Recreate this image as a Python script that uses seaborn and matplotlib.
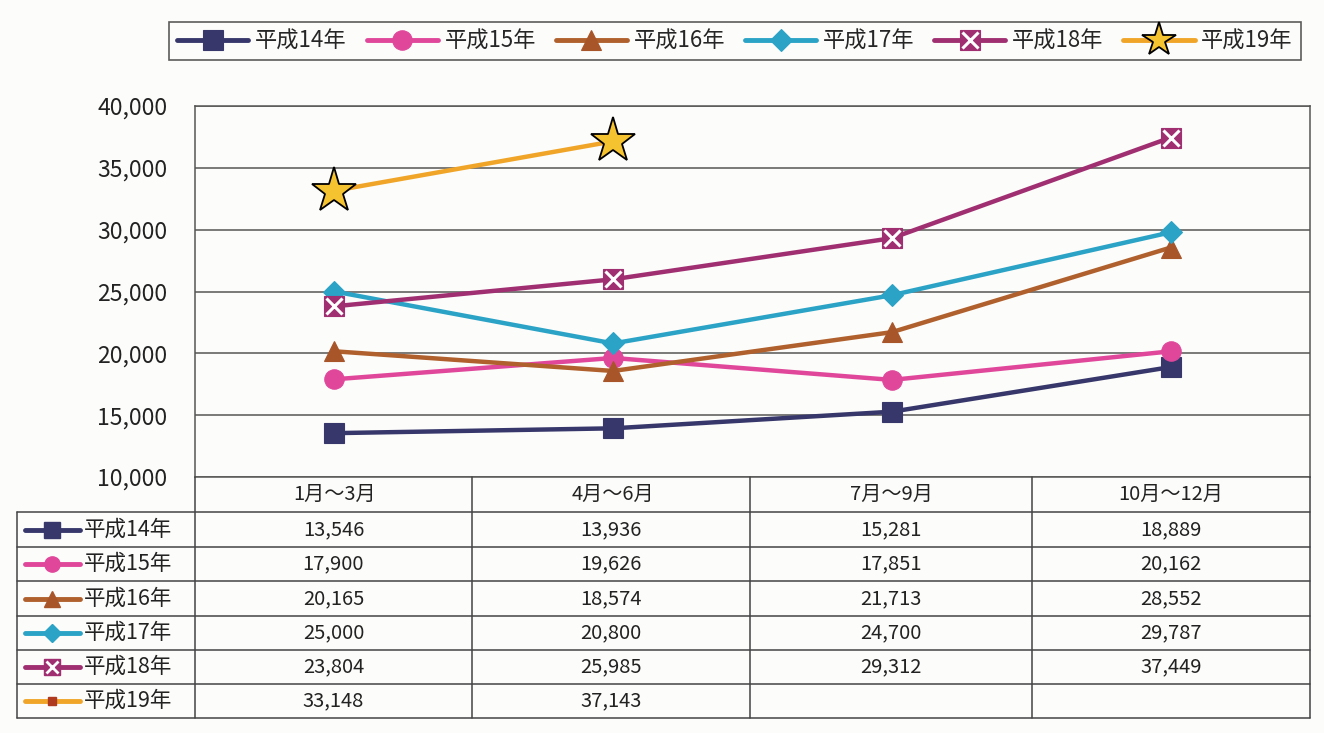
import matplotlib
matplotlib.use("Agg")
import matplotlib.pyplot as plt
from matplotlib.lines import Line2D
from matplotlib.legend_handler import HandlerTuple
import seaborn as sns
import pandas as pd

sns.set_theme(style="white")
plt.rcParams['font.family'] = ['Noto Sans CJK JP', 'DejaVu Sans']

categories = ["1月～3月", "4月～6月", "7月～9月", "10月～12月"]
series_names = ["平成14年", "平成15年", "平成16年", "平成17年", "平成18年", "平成19年"]
h14 = [13546, 13936, 15281, 18889]
h15 = [17900, 19626, 17851, 20162]
h16 = [20165, 18574, 21713, 28552]
h17 = [25000, 20800, 24700, 29787]
h18 = [23804, 25985, 29312, 37449]
h19 = [33148, 37143, None, None]
values = [h14, h15, h16, h17, h18, h19]
yticks = [10000, 15000, 20000, 25000, 30000, 35000, 40000]

colors = ["#37376b", "#e0479b", "#b0602c", "#2ba3c6", "#a02f72", "#f0a528"]
mfc = ["#37376b", "#e0479b", "#a8552a", "#2ba3c6", "#a02f72", "#f5c230"]
markers = ["s", "o", "^", "D", "s", "*"]
msizes = [15, 14, 14, 11, 15, 34]

W, H = 1324, 733
fig = plt.figure(figsize=(W / 100, H / 100), dpi=100, facecolor="#fcfcfa")

def fx(px):
    return px / W

def fy(py):
    return 1 - py / H

ax = fig.add_axes([fx(195), fy(477), fx(1310) - fx(195), fy(106) - fy(477)])
ax.set_facecolor("#fcfcfa")

handles = []
for i, (name, vals) in enumerate(zip(series_names, values)):
    df = pd.DataFrame({"x": list(range(len(categories))), "y": vals}).dropna()
    edge = "black" if markers[i] == "*" else mfc[i]
    sns.lineplot(data=df, x="x", y="y", ax=ax, color=colors[i], lw=3.2,
                 marker=markers[i], markersize=msizes[i], markerfacecolor=mfc[i],
                 markeredgecolor=edge, markeredgewidth=1.3 if markers[i] == "*" else 0.8,
                 zorder=3 + i)
    h = Line2D([], [], color=colors[i], lw=3.5, marker=markers[i],
               markersize=msizes[i] * (0.75 if markers[i] == "*" else 1.0),
               markerfacecolor=mfc[i], markeredgecolor=edge,
               markeredgewidth=1.3 if markers[i] == "*" else 0.8)
    if i == 4:
        ax.plot(df["x"], df["y"], ls="none", marker="x", markersize=11,
                markeredgecolor="white", markeredgewidth=2.2, zorder=20)
        hx = Line2D([], [], ls="none", marker="x", markersize=11,
                    markeredgecolor="white", markeredgewidth=2.2)
        handles.append((h, hx))
    else:
        handles.append(h)

ax.set_xlim(-0.5, len(categories) - 0.5)
ax.set_ylim(10000, 40000)
ax.set_yticks(yticks)
ax.set_yticklabels([f"{v:,}" for v in yticks], fontsize=16.5, color="#222222")
ax.set_xticks(range(len(categories)))
ax.set_xticklabels(categories, fontsize=14.5, color="#222222")
ax.tick_params(axis="both", length=0)
ax.tick_params(axis="x", pad=5)
ax.tick_params(axis="y", pad=20)
ax.grid(axis="y", color="#555555", lw=1.1)
ax.set_xlabel("")
ax.set_ylabel("")
for s in ax.spines.values():
    s.set_color("#555555")
    s.set_linewidth(1.1)

# data table below
tc = "#444444"
row_y = [512, 547, 581, 616, 650, 684, 718]
col_x = [195, 472, 750, 1032, 1310]
for x in col_x:
    fig.add_artist(Line2D([fx(x), fx(x)], [fy(477), fy(718)], color=tc, lw=1.1))
fig.add_artist(Line2D([fx(17), fx(17)], [fy(512), fy(718)], color=tc, lw=1.1))
for y in row_y:
    fig.add_artist(Line2D([fx(17), fx(1310)], [fy(y), fy(y)], color=tc, lw=1.1))

for r, (name, vals) in enumerate(zip(series_names, values)):
    yc = (row_y[r] + row_y[r + 1]) / 2
    fig.add_artist(Line2D([fx(25), fx(80)], [fy(yc), fy(yc)], color=colors[r], lw=3.5))
    mk = "s" if markers[r] == "*" else markers[r]
    ms = 6 if markers[r] == "*" else 11 if markers[r] != "D" else 9
    mcol = "#b03a20" if markers[r] == "*" else mfc[r]
    fig.add_artist(Line2D([fx(52)], [fy(yc)], ls="none", marker=mk, markersize=ms,
                          markerfacecolor=mcol, markeredgecolor=mcol))
    if r == 4:
        fig.add_artist(Line2D([fx(52)], [fy(yc)], ls="none", marker="x", markersize=8,
                              markeredgecolor="white", markeredgewidth=2))
    fig.text(fx(84), fy(yc), name, fontsize=15.5, va="center", ha="left", color="#222222")
    for c, v in enumerate(vals):
        if v is None:
            continue
        xc = (col_x[c] + col_x[c + 1]) / 2
        fig.text(fx(xc), fy(yc), f"{v:,}", fontsize=14.5, va="center", ha="center", color="#222222")

leg = fig.legend(handles, series_names, loc="center", bbox_to_anchor=(fx(735), fy(41)),
                 ncol=6, fontsize=16, frameon=True, fancybox=False, edgecolor="#333333",
                 handlelength=3.2, handletextpad=0.3, columnspacing=0.9, borderpad=0.35,
                 handler_map={tuple: HandlerTuple(ndivide=1)})
leg.get_frame().set_linewidth(1.2)
leg.get_frame().set_facecolor("#fcfcfa")

fig.savefig("out.png", dpi=100, facecolor=fig.get_facecolor())
